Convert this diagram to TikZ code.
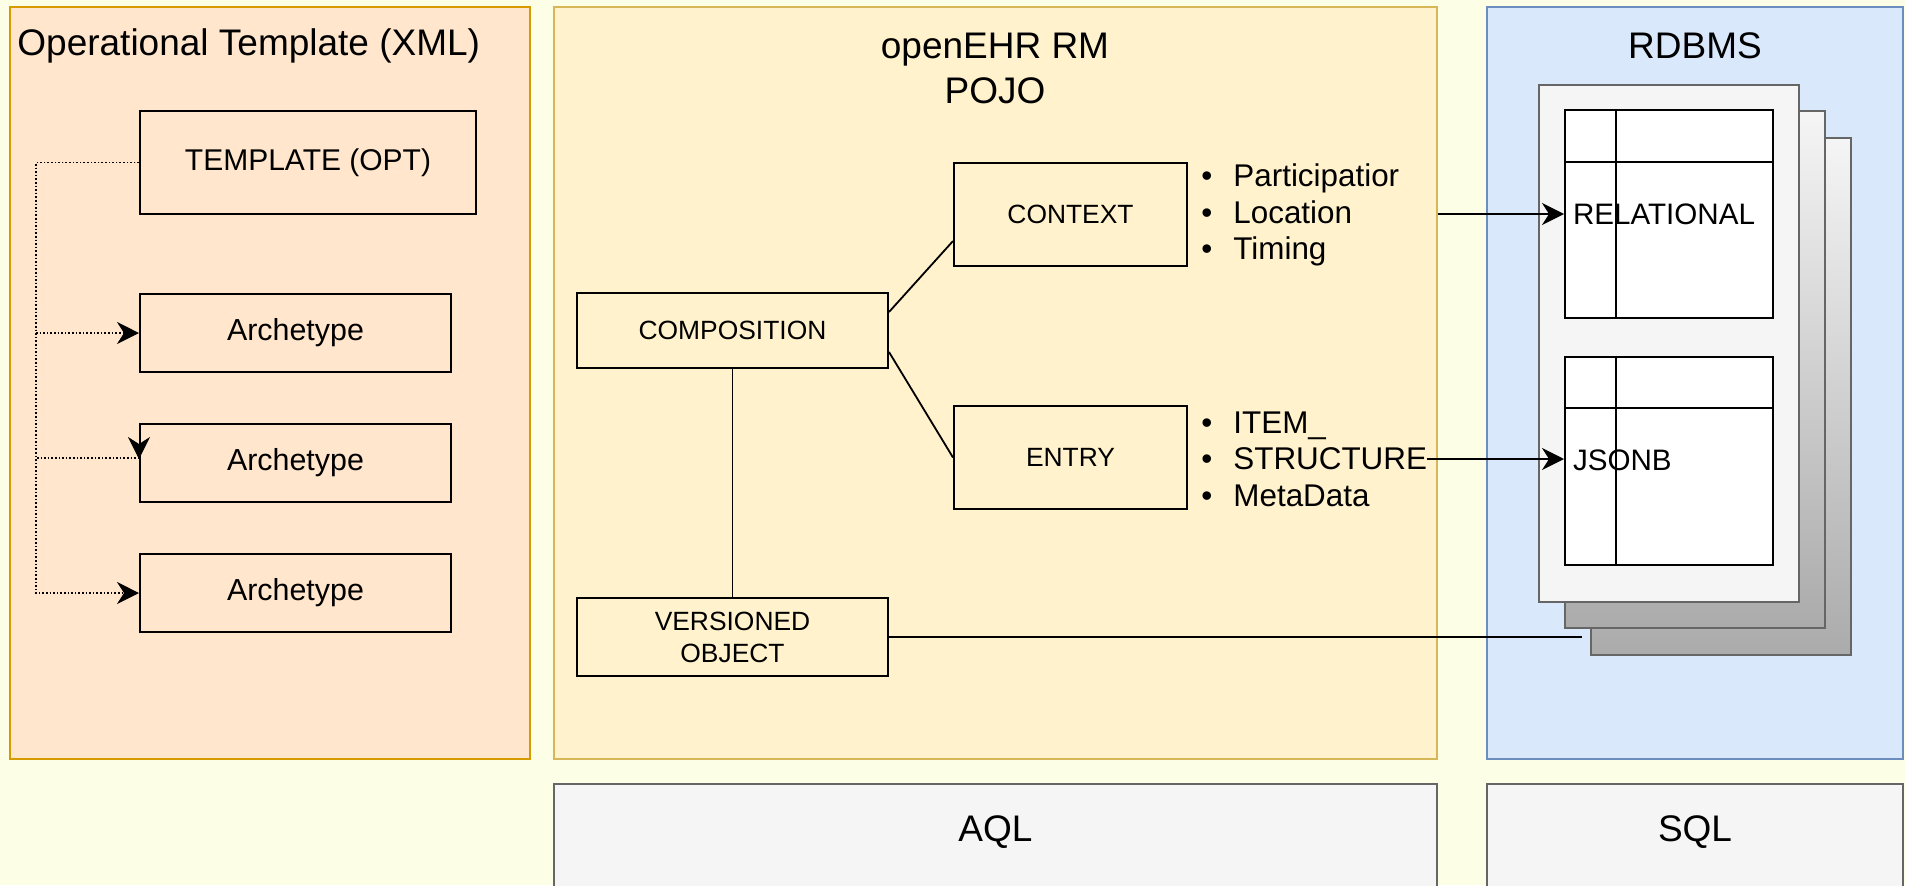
\documentclass[tikz,border=0pt]{standalone}
\usepackage{fontspec}
\setmainfont{Liberation Sans}
\usetikzlibrary{arrows.meta}

\definecolor{bgyellow}{HTML}{FCFEE6}
\definecolor{optfill}{HTML}{FFE6CC}
\definecolor{optline}{HTML}{D79B00}
\definecolor{rmfill}{HTML}{FFF2CC}
\definecolor{rmline}{HTML}{D6B656}
\definecolor{dbfill}{HTML}{DAE8FC}
\definecolor{dbline}{HTML}{6C8EBF}
\definecolor{qfill}{HTML}{F5F5F5}
\definecolor{qline}{HTML}{666666}
\definecolor{pageshade}{HTML}{ABABAB}

\newcommand{\bulletitem}[1]{\makebox[16pt][l]{\textbullet}#1}

\begin{document}
\begin{tikzpicture}[x=0.5pt, y=-0.5pt,
    paneltitle/.style={font=\fontsize{18.5}{22.5}\selectfont, inner sep=0pt},
    panel/.style={draw, line width=1pt, inner sep=0pt},
    box/.style={draw, line width=1pt, inner sep=0pt, align=center},
    page/.style={draw=qline, line width=1pt, minimum width=130pt, minimum height=258.5pt, inner sep=0pt},
    tbl/.style={draw, fill=white, line width=1pt, minimum height=104pt, text width=96pt,
                inner sep=4pt, align=left, font=\fontsize{14.8}{17}\selectfont},
    arr/.style={-{Stealth[length=11pt, width=11pt, inset=3.5pt]}},
    blist/.style={anchor=west, inner sep=0pt, align=left, font=\fontsize{15.7}{18.3}\selectfont}
]
    \clip (0,0) rectangle (1905,885);
    \fill[bgyellow] (0,0) rectangle (1905,885);

    % Panels
    \node[panel, fill=optfill, draw=optline, minimum width=260pt, minimum height=376pt] (opt) at (270,383) {};
    \node[panel, fill=rmfill, draw=rmline, minimum width=441.5pt, minimum height=376pt] (rm) at (995.5,383) {};
    \node[panel, fill=dbfill, draw=dbline, minimum width=208pt, minimum height=376pt] (db) at (1695,383) {};
    \node[panel, fill=qfill, draw=qline, minimum width=441.5pt, minimum height=80pt] (aql) at (995.5,864) {};
    \node[panel, fill=qfill, draw=qline, minimum width=208pt, minimum height=80pt] (sql) at (1695,864) {};

    % Panel titles
    \node[paneltitle, anchor=west] (opttitle) at (17,46) {Operational Template (XML)};
    \node[paneltitle, align=center] (rmtitle) at (995,68) {openEHR RM\\POJO};
    \node[paneltitle] (dbtitle) at (1695,46) {RDBMS};
    \node[paneltitle] (aqltitle) at (995.5,832) {AQL};
    \node[paneltitle] (sqltitle) at (1695,832) {SQL};

    % Template and archetypes
    \node[box, minimum width=168pt, minimum height=51.5pt, font=\fontsize{15}{18}\selectfont] (tpl) at (308,162.5) {TEMPLATE (OPT)};
    \node[box, minimum width=155.5pt, minimum height=39pt, font=\fontsize{15.2}{18}\selectfont] (arch1) at (295.5,333) {Archetype};
    \node[box, minimum width=155.5pt, minimum height=39pt, font=\fontsize{15.2}{18}\selectfont] (arch2) at (295.5,463) {Archetype};
    \node[box, minimum width=155.5pt, minimum height=39pt, font=\fontsize{15.2}{18}\selectfont] (arch3) at (295.5,593) {Archetype};
    \coordinate (trunk) at (36,0);

    % RM classes
    \node[box, minimum width=155.5pt, minimum height=37.5pt, font=\fontsize{13.2}{16}\selectfont] (comp) at (732.5,330.5) {COMPOSITION};
    \node[box, minimum width=116.5pt, minimum height=51.5pt, font=\fontsize{13.2}{16}\selectfont] (ctx) at (1070.5,214.5) {CONTEXT};
    \node[box, minimum width=116.5pt, minimum height=51.5pt, font=\fontsize{13.2}{16}\selectfont] (entry) at (1070.5,457.5) {ENTRY};
    \node[box, minimum width=155.5pt, minimum height=39pt, font=\fontsize{13.2}{16}\selectfont] (ver) at (732.5,637) {VERSIONED\\OBJECT};

    % Attribute lists
    \node[blist] (ctxlist) at (1201,215) {\bulletitem{Participatior}\\\bulletitem{Location}\\\bulletitem{Timing}};
    \node[blist] (entrylist) at (1201,459) {\bulletitem{ITEM\_}\\\bulletitem{STRUCTURE}\\\bulletitem{MetaData}};

    % Database pages
    \node[page, top color=qfill, bottom color=pageshade] (page3) at (1721,396) {};
    \node[page, top color=qfill, bottom color=pageshade] (page2) at (1695,369.5) {};
    \node[page, fill=qfill] (page1) at (1668.5,343) {};

    % Tables
    \node[tbl] (rel) at (1669,214) {RELATIONAL};
    \node[tbl] (json) at (1669,460.5) {JSONB};
    \draw[line width=1pt] ([yshift=-26.5pt]rel.north west) -- ([yshift=-26.5pt]rel.north east);
    \draw[line width=1pt] ([xshift=26pt]rel.north west) -- ([xshift=26pt]rel.south west);
    \draw[line width=1pt] ([yshift=-26pt]json.north west) -- ([yshift=-26pt]json.north east);
    \draw[line width=1pt] ([xshift=26pt]json.north west) -- ([xshift=26pt]json.south west);
    \coordinate (ctxout) at (rm.east |- rel.west);
    \coordinate (dbin) at (1582,637);

    % Lines
    \draw[densely dotted, line width=0.8pt, arr] (tpl.west) -- (tpl.west -| trunk) |- (arch1.west);
    \draw[densely dotted, line width=0.8pt, arr] (tpl.west) -- (tpl.west -| trunk) |- ([yshift=2.5pt]arch2.west) -- ([yshift=2pt]arch2.west);
    \draw[densely dotted, line width=0.8pt, arr] (tpl.west) -- (tpl.west -| trunk) |- (arch3.west);
    \draw[line width=0.9pt] ([yshift=9.25pt]comp.east) -- ([yshift=-13.25pt]ctx.west);
    \draw[line width=0.9pt] ([yshift=-10.75pt]comp.east) -- (entry.west);
    \draw[line width=0.9pt] (comp.south) -- (ver.north);
    \draw[line width=0.9pt] (ver.east) -- (dbin);
    \draw[line width=0.9pt, arr] (ctxout) -- (rel.west);
    \draw[line width=0.9pt, arr] (entrylist.east) -- (entrylist.east -| json.west);
\end{tikzpicture}
\end{document}
